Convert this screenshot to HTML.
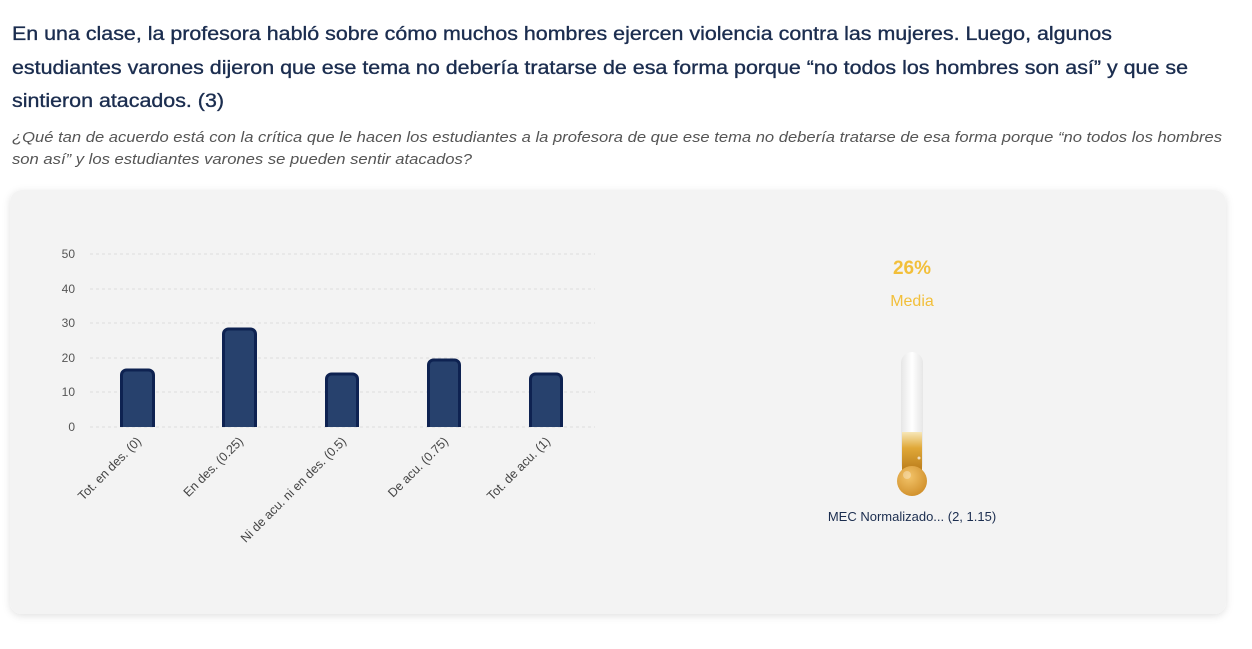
<!DOCTYPE html>
<html><head><meta charset="utf-8"><style>
html,body{margin:0;padding:0;background:#fff;width:1252px;height:649px;overflow:hidden}
svg{display:block}
</style></head><body>
<svg width="1252" height="649" viewBox="0 0 1252 649" xmlns="http://www.w3.org/2000/svg" font-family="Liberation Sans, sans-serif">
<defs>
<filter id="sh" x="-5%" y="-5%" width="110%" height="115%"><feDropShadow dx="0" dy="2" stdDeviation="4" flood-color="#000" flood-opacity="0.12"/></filter>
<linearGradient id="tube" x1="0" x2="1"><stop offset="0" stop-color="#e6e6e6"/><stop offset="0.5" stop-color="#ffffff"/><stop offset="1" stop-color="#e6e6e6"/></linearGradient>
<linearGradient id="fill" x1="0" y1="0" x2="0" y2="1"><stop offset="0" stop-color="#f7e7b8"/><stop offset="0.4" stop-color="#e0a838"/><stop offset="1" stop-color="#b87a1a"/></linearGradient>
<radialGradient id="bulb" cx="0.4" cy="0.35" r="0.7"><stop offset="0" stop-color="#f3c46a"/><stop offset="1" stop-color="#d08f2a"/></radialGradient>
</defs>
<g fill="#1b2d4f" stroke="#1b2d4f" stroke-width="0.35" font-size="19.5">
<text x="12" y="40" textLength="1100" lengthAdjust="spacingAndGlyphs">En una clase, la profesora habló sobre cómo muchos hombres ejercen violencia contra las mujeres. Luego, algunos</text>
<text x="12" y="74" textLength="1176" lengthAdjust="spacingAndGlyphs">estudiantes varones dijeron que ese tema no debería tratarse de esa forma porque “no todos los hombres son así” y que se</text>
<text x="12" y="107" textLength="212" lengthAdjust="spacingAndGlyphs">sintieron atacados. (3)</text>
</g>
<g fill="#555" font-size="14.5" font-style="italic">
<text x="12" y="142" textLength="1210" lengthAdjust="spacingAndGlyphs">¿Qué tan de acuerdo está con la crítica que le hacen los estudiantes a la profesora de que ese tema no debería tratarse de esa forma porque “no todos los hombres</text>
<text x="12" y="164" textLength="460" lengthAdjust="spacingAndGlyphs">son así” y los estudiantes varones se pueden sentir atacados?</text>
</g>
<rect x="10" y="190" width="1216" height="424" rx="12" fill="#f3f3f3" filter="url(#sh)"/>
<g stroke="#dedede" stroke-dasharray="3,3" stroke-width="1">
<line x1="90" y1="254" x2="595" y2="254"/><line x1="90" y1="289" x2="595" y2="289"/>
<line x1="90" y1="323" x2="595" y2="323"/><line x1="90" y1="358" x2="595" y2="358"/>
<line x1="90" y1="392" x2="595" y2="392"/><line x1="90" y1="427" x2="595" y2="427"/>
</g>
<g fill="#555" font-size="12" text-anchor="end">
<text x="75" y="258">50</text><text x="75" y="293">40</text><text x="75" y="327">30</text>
<text x="75" y="362">20</text><text x="75" y="396">10</text><text x="75" y="431">0</text>
</g>
<g fill="#27416d" stroke="#0e2251" stroke-width="3">
<path d="M121.5,427V375a5,5 0 0 1 5,-5h22a5,5 0 0 1 5,5V427"/>
<path d="M223.5,427V334a5,5 0 0 1 5,-5h22a5,5 0 0 1 5,5V427"/>
<path d="M326.5,427V379a5,5 0 0 1 5,-5h21a5,5 0 0 1 5,5V427"/>
<path d="M428.5,427V365a5,5 0 0 1 5,-5h21a5,5 0 0 1 5,5V427"/>
<path d="M530.5,427V379a5,5 0 0 1 5,-5h21a5,5 0 0 1 5,5V427"/>
</g>
<g fill="#444" font-size="12.5" text-anchor="end">
<text transform="translate(142,442) rotate(-45)">Tot. en des. (0)</text>
<text transform="translate(244,442) rotate(-45)">En des. (0.25)</text>
<text transform="translate(347,442) rotate(-45)">Ni de acu. ni en des. (0.5)</text>
<text transform="translate(449,442) rotate(-45)">De acu. (0.75)</text>
<text transform="translate(551,442) rotate(-45)">Tot. de acu. (1)</text>
</g>
<text x="912" y="274" fill="#f2bf3a" font-size="19" font-weight="bold" text-anchor="middle">26%</text>
<text x="912" y="306" fill="#f2bf3a" font-size="16" text-anchor="middle">Media</text>
<rect x="901" y="352" width="22" height="122" rx="11" fill="url(#tube)"/>
<rect x="902" y="432" width="20" height="40" fill="url(#fill)"/>
<circle cx="919" cy="458" r="1.5" fill="#fff" opacity="0.7"/>
<circle cx="912" cy="481" r="15" fill="url(#bulb)"/>
<circle cx="907" cy="475" r="4" fill="#fff" opacity="0.3"/>
<text x="912" y="521" fill="#1b2d4f" font-size="13" text-anchor="middle">MEC Normalizado... (2, 1.15)</text>
</svg>
</body></html>
